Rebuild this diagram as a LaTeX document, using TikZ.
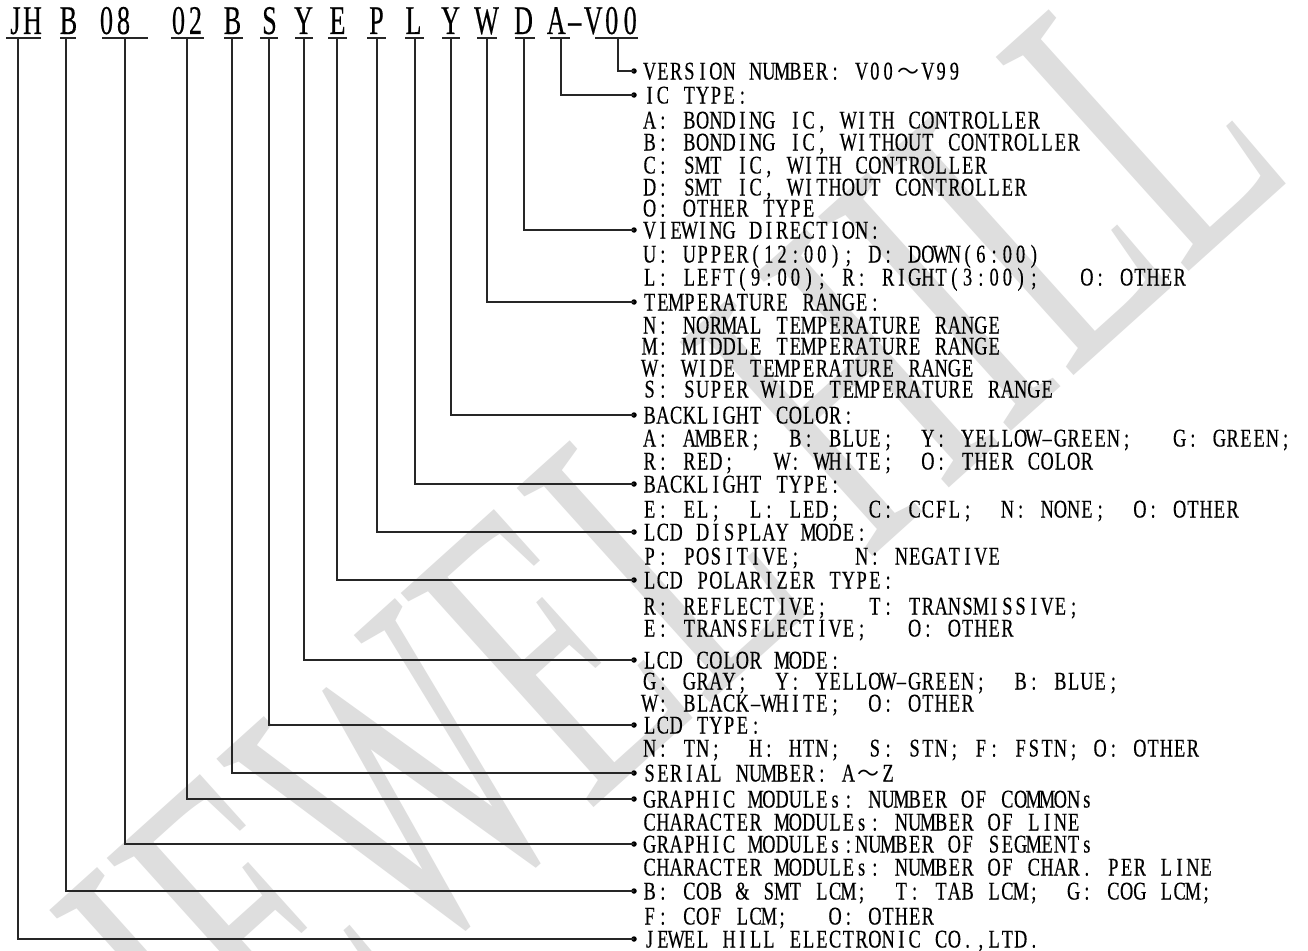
\documentclass[tikz,border=0pt]{standalone}
\usepackage{fontspec}
\newfontfamily\serifc[FakeStretch=0.72,FakeBold=0.3]{Liberation Serif}
\newfontfamily\headf[FakeStretch=0.64,FakeBold=0.3]{Liberation Serif}
\newfontfamily\wmfont[FakeStretch=0.58]{Liberation Serif}
\newfontfamily\cjk{Noto Sans CJK SC}
\ExplSyntaxOn
\NewDocumentCommand\monotext{m m}{
  \str_map_inline:nn {#2} {
    \str_case:nnF {##1}
      {
        {～} {\makebox[2\dimexpr#1\relax][c]{\fontsize{22}{22}\cjk ～}}
        {_}  {\hspace*{#1}}
        {-}  {\makebox[#1][c]{–}}
      }
      {\makebox[#1][c]{##1}}
  }
}
\ExplSyntaxOff
\newcommand\bdt[1]{\monotext{13.25pt}{#1}}
\newcommand\hdt[1]{\monotext{17pt}{#1}}
\begin{document}
\begin{tikzpicture}[x=1pt,y=-1pt,
  body/.style={anchor=base west, inner sep=0pt, outer sep=0pt, font=\fontsize{25.5}{25.5}\serifc},
  head/.style={anchor=base west, inner sep=0pt, outer sep=0pt, font=\fontsize{40.8}{40.8}\headf},
  dot/.style={circle, fill=black, inner sep=0pt, minimum size=5.5pt},
  conn/.style={draw=black!85, line width=1.2pt},
  uline/.style={draw=black!85, line width=1.2pt},
  wm/.style={inner sep=0pt, text=black!13, font=\fontsize{440}{440}\wmfont}]
\fill[white] (0,0) rectangle (1308,950);
\useasboundingbox (0,0) rectangle (1308,950);
% watermark
\node[wm, rotate=42, anchor=base east] (wmark) at (1300,172) {JEWEL HILL};
% header
\node[head] (h1) at (7,34) {\hdt{JH}};
\node[head] (h2) at (60,34) {\hdt{B}};
\node[head] (h3) at (98,34) {\hdt{08}};
\node[head] (h4) at (170,34) {\hdt{02}};
\node[head] (h5) at (224,34) {\hdt{B}};
\node[head] (h6) at (261,34) {\hdt{S}};
\node[head] (h7) at (295,34) {\hdt{Y}};
\node[head] (h8) at (329,34) {\hdt{E}};
\node[head] (h9) at (368,34) {\hdt{P}};
\node[head] (h10) at (405,34) {\hdt{L}};
\node[head] (h11) at (442,34) {\hdt{Y}};
\node[head] (h12) at (478,34) {\hdt{W}};
\node[head] (h13) at (515,34) {\hdt{D}};
\node[head] (h14) at (547,34) {\monotext{18.5pt}{A-V00}};
% underlines
\draw[uline] (6,38) -- (41,38);
\draw[uline] (60,38) -- (76,38);
\draw[uline] (102,38) -- (148,38);
\draw[uline] (171,38) -- (204,38);
\draw[uline] (224,38) -- (243,38);
\draw[uline] (260,38) -- (278,38);
\draw[uline] (295,38) -- (313,38);
\draw[uline] (328,38) -- (347,38);
\draw[uline] (367,38) -- (386,38);
\draw[uline] (405,38) -- (424,38);
\draw[uline] (442,38) -- (460,38);
\draw[uline] (477,38) -- (497,38);
\draw[uline] (515,38) -- (535,38);
\draw[uline] (550,38) -- (570,38);
\draw[uline] (595,38) -- (638,38);
% connector tops
\coordinate (t1) at (618,38);
\coordinate (t2) at (561,38);
\coordinate (t3) at (524,38);
\coordinate (t4) at (487,38);
\coordinate (t5) at (451,38);
\coordinate (t6) at (415,38);
\coordinate (t7) at (377,38);
\coordinate (t8) at (337,38);
\coordinate (t9) at (304,38);
\coordinate (t10) at (269,38);
\coordinate (t11) at (232,38);
\coordinate (t12) at (187,38);
\coordinate (t13) at (125,38);
\coordinate (t14) at (66,38);
\coordinate (t15) at (18,38);
% dots
\node[dot] (d1) at (634,71) {};
\node[dot] (d2) at (634,95) {};
\node[dot] (d3) at (634,230) {};
\node[dot] (d4) at (634,302) {};
\node[dot] (d5) at (634,415) {};
\node[dot] (d6) at (634,484) {};
\node[dot] (d7) at (634,532) {};
\node[dot] (d8) at (634,580) {};
\node[dot] (d9) at (634,660) {};
\node[dot] (d10) at (634,725) {};
\node[dot] (d11) at (634,773) {};
\node[dot] (d12) at (634,799) {};
\node[dot] (d13) at (634,844) {};
\node[dot] (d14) at (634,891) {};
\node[dot] (d15) at (634,939) {};
\foreach \i in {1,...,15} {\draw[conn] (t\i) |- (d\i.center);}
% body text
\node[body] (l1) at (643,79.5) {\bdt{VERSION NUMBER: V00～V99}};
\node[body] (l2) at (643,103.5) {\bdt{IC TYPE:}};
\node[body] (l3) at (643,128.5) {\bdt{A: BONDING IC, WITH CONTROLLER}};
\node[body] (l4) at (643,150.5) {\bdt{B: BONDING IC, WITHOUT CONTROLLER}};
\node[body] (l5) at (643,173.5) {\bdt{C: SMT IC, WITH CONTROLLER}};
\node[body] (l6) at (643,195.5) {\bdt{D: SMT IC, WITHOUT CONTROLLER}};
\node[body] (l7) at (643,216.5) {\bdt{O: OTHER TYPE}};
\node[body] (l8) at (643,238.5) {\bdt{VIEWING DIRECTION:}};
\node[body] (l9) at (643,262.5) {\bdt{U: UPPER(12:00); D: DOWN(6:00)}};
\node[body] (l10) at (643,285.5) {\bdt{L: LEFT(9:00); R: RIGHT(3:00);___O: OTHER}};
\node[body] (l11) at (643,310.5) {\bdt{TEMPERATURE RANGE:}};
\node[body] (l12) at (643,333.5) {\bdt{N: NORMAL TEMPERATURE RANGE}};
\node[body] (l13) at (643,354.5) {\bdt{M: MIDDLE TEMPERATURE RANGE}};
\node[body] (l14) at (643,376.5) {\bdt{W: WIDE TEMPERATURE RANGE}};
\node[body] (l15) at (643,397.5) {\bdt{S: SUPER WIDE TEMPERATURE RANGE}};
\node[body] (l16) at (643,423.5) {\bdt{BACKLIGHT COLOR:}};
\node[body] (l17) at (643,446.5) {\bdt{A: AMBER;__B: BLUE;__Y: YELLOW-GREEN;___G: GREEN;}};
\node[body] (l18) at (643,469.5) {\bdt{R: RED;___W: WHITE;__O: THER COLOR}};
\node[body] (l19) at (643,492.5) {\bdt{BACKLIGHT TYPE:}};
\node[body] (l20) at (643,517.5) {\bdt{E: EL;__L: LED;__C: CCFL;__N: NONE;__O: OTHER}};
\node[body] (l21) at (643,540.5) {\bdt{LCD DISPLAY MODE:}};
\node[body] (l22) at (643,564.5) {\bdt{P: POSITIVE;____N: NEGATIVE}};
\node[body] (l23) at (643,588.5) {\bdt{LCD POLARIZER TYPE:}};
\node[body] (l24) at (643,614.5) {\bdt{R: REFLECTIVE;___T: TRANSMISSIVE;}};
\node[body] (l25) at (643,636.5) {\bdt{E: TRANSFLECTIVE;___O: OTHER}};
\node[body] (l26) at (643,668.5) {\bdt{LCD COLOR MODE:}};
\node[body] (l27) at (643,689.5) {\bdt{G: GRAY;__Y: YELLOW-GREEN;__B: BLUE;}};
\node[body] (l28) at (643,711.5) {\bdt{W: BLACK-WHITE;__O: OTHER}};
\node[body] (l29) at (643,733.5) {\bdt{LCD TYPE:}};
\node[body] (l30) at (643,756.5) {\bdt{N: TN;__H: HTN;__S: STN; F: FSTN; O: OTHER}};
\node[body] (l31) at (643,781.5) {\bdt{SERIAL NUMBER: A～Z}};
\node[body] (l32) at (643,807.5) {\bdt{GRAPHIC MODULEs: NUMBER OF COMMONs}};
\node[body] (l33) at (643,830.5) {\bdt{CHARACTER MODULEs: NUMBER OF LINE}};
\node[body] (l34) at (643,852.5) {\bdt{GRAPHIC MODULEs:NUMBER OF SEGMENTs}};
\node[body] (l35) at (643,875.5) {\bdt{CHARACTER MODULEs: NUMBER OF CHAR. PER LINE}};
\node[body] (l36) at (643,899.5) {\bdt{B: COB & SMT LCM;__T: TAB LCM;__G: COG LCM;}};
\node[body] (l37) at (643,924.5) {\bdt{F: COF LCM;___O: OTHER}};
\node[body] (l38) at (643,947.5) {\bdt{JEWEL HILL ELECTRONIC CO.,LTD.}};
\end{tikzpicture}
\end{document}
